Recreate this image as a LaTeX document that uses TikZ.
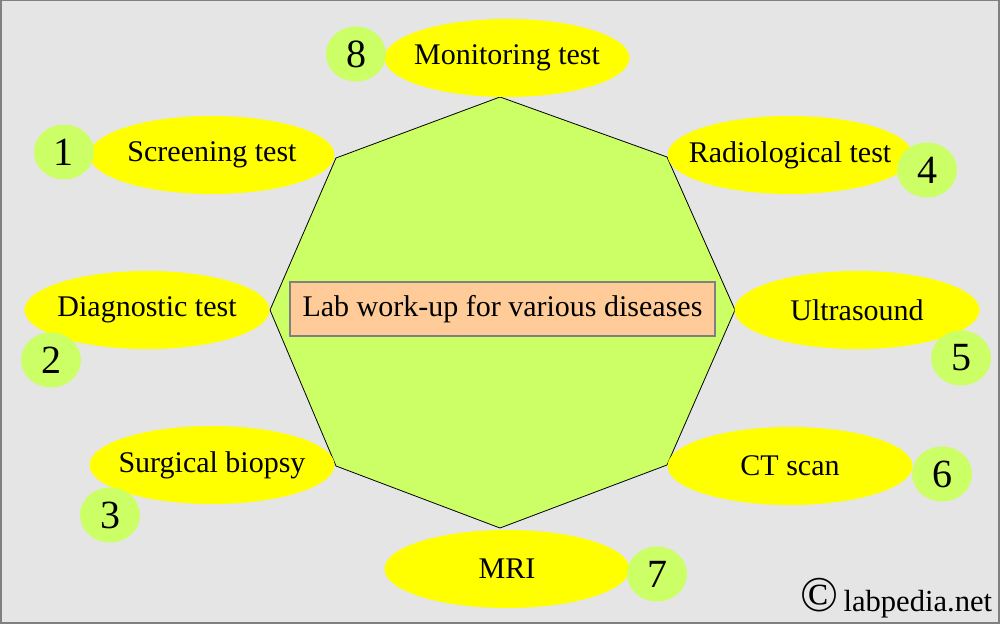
\documentclass[tikz,border=0pt]{standalone}
\usepackage{fontspec}
\setmainfont{Liberation Serif}
\usetikzlibrary{shapes.geometric}
\definecolor{bg}{HTML}{E5E5E5}
\definecolor{oct}{HTML}{CCFF66}
\definecolor{yel}{HTML}{FFFF00}
\definecolor{peach}{HTML}{FFCC99}
\definecolor{frame}{HTML}{808080}
\newcommand{\zw}[1]{\raisebox{-1.2pt}{\makebox[0pt]{#1}}}
\tikzset{
  item/.style={ellipse, fill=yel, inner sep=0pt, minimum width=122.5pt, minimum height=39pt, font=\fontsize{15}{15}\selectfont},
  num/.style={ellipse, fill=oct, inner sep=0pt, minimum width=30pt, minimum height=27.5pt, font=\fontsize{20}{20}\selectfont},
}
\begin{document}
\begin{tikzpicture}[x=0.5pt,y=-0.5pt]
\useasboundingbox (0,0) rectangle (1000,624);
\fill[bg] (0,0) rectangle (1000,624);
\draw[frame, line width=1pt] (0.5,0.5) rectangle (998.5,622.5);
% octagon
\coordinate (vT) at (500,97);
\coordinate (vTR) at (667,157);
\coordinate (vR) at (735,310);
\coordinate (vBR) at (667,465);
\coordinate (vB) at (500,528);
\coordinate (vBL) at (336,466);
\coordinate (vL) at (270,310);
\coordinate (vTL) at (336,158);
\draw[fill=oct, line width=0.4pt] (vT) -- (vTR) -- (vR) -- (vBR) -- (vB) -- (vBL) -- (vL) -- (vTL) -- cycle;
\node[draw=frame, fill=peach, line width=0.6pt, minimum width=212.5pt, minimum height=27pt, inner sep=0pt, font=\fontsize{15}{15}\selectfont] (center) at (502.5,309) {\raisebox{-0.8pt}{Lab work-up for various diseases}};
% ellipses
\node[item] (e8) at (507,58) {\zw{Monitoring test}};
\node[item] (e1) at (212,155) {\zw{Screening test}};
\node[item] (e2) at (147,310) {\zw{Diagnostic test}};
\node[item] (e3) at (212,465) {\zw{Surgical biopsy}};
\node[item] (e7) at (507,569) {\zw{MRI}};
\node[item] (e6) at (790,466) {\zw{CT scan}};
\node[item] (e5) at (857,310) {\zw{Ultrasound}};
\node[item] (e4) at (790,155) {\zw{Radiological test}};
% numbers
\node[num] (n8) at (356,54) {8};
\node[num] (n1) at (64,152) {1};
\node[num] (n2) at (51,360) {2};
\node[num] (n3) at (110,515) {3};
\node[num] (n4) at (927,170) {4};
\node[num] (n5) at (961,358) {5};
\node[num] (n6) at (942,474) {6};
\node[num] (n7) at (657,574) {7};
% copyright
\node[inner sep=0pt, anchor=west] (copy) at (800,598) {\fontsize{25}{25}\selectfont ©\fontsize{15.3}{15}\selectfont\,labpedia.net};
\end{tikzpicture}
\end{document}
